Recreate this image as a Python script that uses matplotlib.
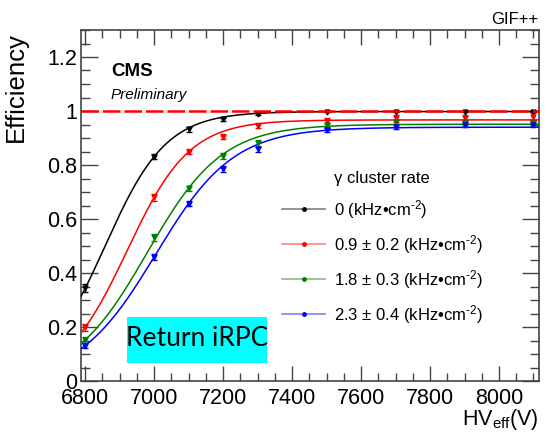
import numpy as np
import matplotlib
matplotlib.use("Agg")
import matplotlib.pyplot as plt
from matplotlib.lines import Line2D
from matplotlib.patches import Rectangle
from matplotlib.ticker import MultipleLocator

plt.rcParams["font.family"] = ["Liberation Sans", "DejaVu Sans"]
plt.rcParams["mathtext.fontset"] = "custom"
plt.rcParams["mathtext.rm"] = "Liberation Sans"
plt.rcParams["mathtext.it"] = "Liberation Sans:italic"

# Effective high voltage scan points (V)
hv_points = [6800, 7000, 7100, 7200, 7300, 7500, 7700, 7900, 8100]

# Measured efficiency for each gamma background rate
eff_0 = [0.343, 0.831, 0.932, 0.969, 0.989, 0.998, 0.998, 0.998, 0.998]
eff_09 = [0.199, 0.680, 0.849, 0.905, 0.946, 0.964, 0.973, 0.975, 0.979]
eff_18 = [0.152, 0.532, 0.714, 0.833, 0.881, 0.948, 0.960, 0.957, 0.954]
eff_23 = [0.131, 0.460, 0.657, 0.785, 0.858, 0.930, 0.942, 0.950, 0.950]

# Statistical uncertainties
err_0 = [0.015, 0.010, 0.008, 0.006, 0.005, 0.003, 0.003, 0.003, 0.003]
err_09 = [0.012, 0.012, 0.010, 0.010, 0.010, 0.010, 0.012, 0.012, 0.012]
err_18 = [0.010, 0.012, 0.010, 0.010, 0.010, 0.008, 0.008, 0.008, 0.008]
err_23 = [0.010, 0.010, 0.008, 0.010, 0.010, 0.008, 0.008, 0.008, 0.008]

# Sigmoid fit parameters: plateau, slope (1/V), HV at 50 % of plateau (V)
fit_emax = [0.998, 0.967, 0.951, 0.940]
fit_lambda = [0.01126, 0.01107, 0.00921, 0.00888]
fit_hv50 = [6857.5, 6922.0, 6980.0, 7005.0]

series_labels = [
    "0 (kHz\u2022cm$^{\\text{-2}}$)",
    "0.9 \u00b1 0.2 (kHz\u2022cm$^{\\text{-2}}$)",
    "1.8 \u00b1 0.3 (kHz\u2022cm$^{\\text{-2}}$)",
    "2.3 \u00b1 0.4 (kHz\u2022cm$^{\\text{-2}}$)",
]
series_colors = ["black", "#ff0000", "#008000", "#0000ff"]
legend_line_colors = ["#808080", "#ff8080", "#80c080", "#8080ff"]

effs = [eff_0, eff_09, eff_18, eff_23]
errs = [err_0, err_09, err_18, err_23]

W, H = 549, 437
fig = plt.figure(figsize=(W / 100, H / 100), dpi=100)
ax = fig.add_axes([81 / W, 1 - 381 / H, (539 - 81) / W, (381 - 30) / H])

ax.set_xlim(6788, 8116)
ax.set_ylim(0, 1.3)

hv_fine = np.linspace(6788, 8116, 400)
for eff, err, emax, lam, hv50, col in zip(effs, errs, fit_emax, fit_lambda, fit_hv50, series_colors):
    curve = emax / (1.0 + np.exp(-lam * (hv_fine - hv50)))
    ax.plot(hv_fine, curve, color=col, lw=1.1, zorder=3)
    ax.errorbar(hv_points, eff, yerr=err, fmt="v", color=col, ms=3.5,
                elinewidth=1.0, capsize=2.5, capthick=1.0, zorder=4)

# 100 % efficiency reference
ax.axhline(1.0, color="#ff0000", lw=1.8, dashes=(7, 1.6), zorder=5)

# Axis styling
ax.xaxis.set_major_locator(MultipleLocator(200))
ax.xaxis.set_minor_locator(MultipleLocator(50))
ax.yaxis.set_major_locator(MultipleLocator(0.2))
ax.yaxis.set_minor_locator(MultipleLocator(0.05))
ax.yaxis.set_major_formatter(plt.FuncFormatter(lambda v, p: f"{v:g}"))
ax.tick_params(which="both", direction="in", top=True, right=True,
               color="#444444", width=1.0, labelsize=15.5)
ax.tick_params(axis="y", which="major", length=12.5, pad=3)
ax.tick_params(axis="y", which="minor", length=6.5)
ax.tick_params(axis="x", which="major", length=10.5, pad=5)
ax.tick_params(axis="x", which="minor", length=5.5)
for sp in ax.spines.values():
    sp.set_color("#444444")
    sp.set_linewidth(1.2)

ax.set_ylabel("Efficiency", fontsize=18.5, loc="top")
ax.yaxis.set_label_coords(-53 / 458, 0.994)
fig.text(539 / W, 1 - 420 / H, "HV$_{\\mathrm{eff}}$(V)", fontsize=15.5,
         ha="right", va="center")

fig.text(538 / W, 1 - 20 / H, "GIF++", fontsize=12, ha="right", va="center")
ax.text((111 - 81) / 458, (381 - 72) / 351, "CMS", fontsize=13.5, fontweight="bold",
        ha="left", va="center", transform=ax.transAxes)
ax.text((111 - 81) / 458, (381 - 95) / 351, "Preliminary", fontsize=11, style="italic",
        ha="left", va="center", transform=ax.transAxes)

# Legend with a header row
handles = [Line2D([], [], linestyle="none")]
labels = ["\u03b3 cluster rate"]
for col, lcol, lab in zip(series_colors, legend_line_colors, series_labels):
    handles.append(Line2D([], [], color=lcol, lw=1.2, marker="o", ms=2.5,
                          markerfacecolor=col, markeredgecolor=col))
    labels.append(lab)
ax.legend(handles, labels, loc="upper left", frameon=False, fontsize=12,
          bbox_to_anchor=((282 - 81) / 458, (381 - 171) / 351),
          borderpad=0, borderaxespad=0, handlelength=2.6, handletextpad=0.5,
          labelspacing=0.72)

# Detector tag
ax.add_patch(Rectangle(((127 - 81) / 458, (381 - 363) / 351),
                       (267 - 127) / 458, (363 - 317) / 351,
                       transform=ax.transAxes, facecolor="#00ffff",
                       edgecolor="none", zorder=6))
ax.text((197 - 81) / 458, (381 - 339) / 351, "Return iRPC", fontsize=19,
        family="Lato", ha="center", va="center", transform=ax.transAxes, zorder=7)

fig.savefig("out.png", dpi=100)
